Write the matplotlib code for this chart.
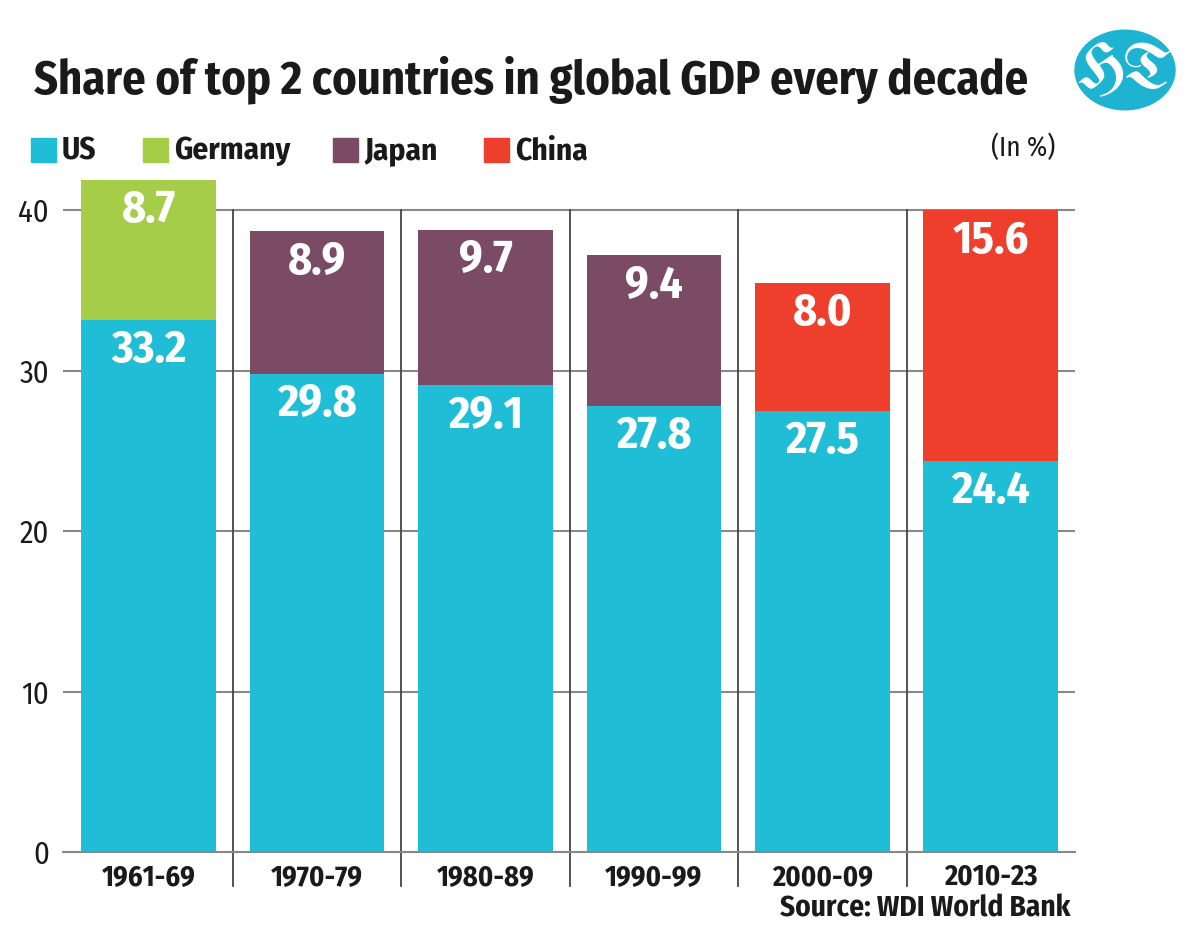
import numpy as np
import matplotlib.pyplot as plt
from matplotlib.patches import Circle, Rectangle

decades = ['1961-69', '1970-79', '1980-89', '1990-99', '2000-09', '2010-23']
us_share = [33.2, 29.8, 29.1, 27.8, 27.5, 24.4]
second_share = [8.7, 8.9, 9.7, 9.4, 8.0, 15.6]
second_country = ['Germany', 'Japan', 'Japan', 'Japan', 'China', 'China']

legend_names = ['US', 'Germany', 'Japan', 'China']
colors = {'US': '#1fbed6', 'Germany': '#a6cd48', 'Japan': '#7b4b66', 'China': '#ee3f2c'}

FONT = ['Fira Sans Condensed', 'PT Sans Narrow', 'DejaVu Sans']
plt.rcParams['font.family'] = FONT
INK = '#1a1a1a'

fig = plt.figure(figsize=(11.9, 9.46), dpi=100)
ax = fig.add_axes([63 / 1190, 94 / 946, (1075 - 63) / 1190, (852 - 180) / 946])

x = np.arange(len(decades))
w = 0.80
ax.bar(x, us_share, width=w, color=colors['US'], zorder=2)
ax.bar(x, second_share, width=w, bottom=us_share,
       color=[colors[c] for c in second_country], zorder=2)

for i in range(len(decades)):
    ax.text(x[i], us_share[i] - 1.9, f'{us_share[i]:.1f}', ha='center', va='center',
            color='white', fontsize=33, fontweight='bold', zorder=3)
    top = us_share[i] + second_share[i]
    ax.text(x[i], top - 1.9, f'{second_share[i]:.1f}', ha='center', va='center',
            color='white', fontsize=33, fontweight='bold', zorder=3)

# separators between decades
for s in np.arange(0.5, len(decades) - 0.5, 1):
    ax.plot([s, s], [-2.1, 40], color='#444444', lw=1.3, clip_on=False, zorder=1)

ax.set_xlim(-0.508, len(decades) - 0.5)
ax.set_ylim(0, 41.9)
ax.set_yticks([0, 10, 20, 30, 40])
ax.yaxis.grid(True, color='#888888', lw=1.5, zorder=0)
ax.set_axisbelow(True)
for side in ['top', 'right', 'left']:
    ax.spines[side].set_visible(False)
ax.spines['bottom'].set_color('#888888')
ax.spines['bottom'].set_linewidth(1.5)
ax.tick_params(axis='y', length=0, labelsize=22, pad=10, labelcolor=INK)
ax.tick_params(axis='x', length=0, pad=8)
ax.set_xticks(x)
ax.set_xticklabels(decades, fontsize=20.5, fontweight='bold', color=INK)

# title
fig.text(34 / 1190, 1 - 80 / 946, 'Share of top 2 countries in global GDP every decade',
         fontsize=33.4, fontweight='bold', color=INK, va='center', ha='left')

# legend
leg_x = [31, 143, 333, 484]
for name, lx in zip(legend_names, leg_x):
    fig.patches.append(Rectangle((lx / 1190, 1 - 162 / 946), 25 / 1190, 24 / 946,
                                 transform=fig.transFigure, color=colors[name]))
    fig.text((lx + 31) / 1190, 1 - 151 / 946, name, fontsize=22.5, fontweight='bold',
             color=INK, va='center', ha='left')

fig.text(1055 / 1190, 1 - 148 / 946, '(In %)', fontsize=19.5,
         color=INK, va='center', ha='right')

fig.text(1071 / 1190, 1 - 909 / 946, 'Source: WDI World Bank', fontsize=21,
         fontweight='bold', color=INK, va='center', ha='right')

# HT logo
logo = Circle((1125 / 1190, 1 - 70 / 946), 50 / 1190, transform=fig.transFigure,
              color='#1fb3d2')
fig.patches.append(logo)
fig.text(1125 / 1190, 1 - 72 / 946, 'HT', fontsize=46,
         family=['UnifrakturMaguntia', 'DejaVu Serif'], color='white',
         ha='center', va='center')

fig.savefig('out.png', dpi=100)
